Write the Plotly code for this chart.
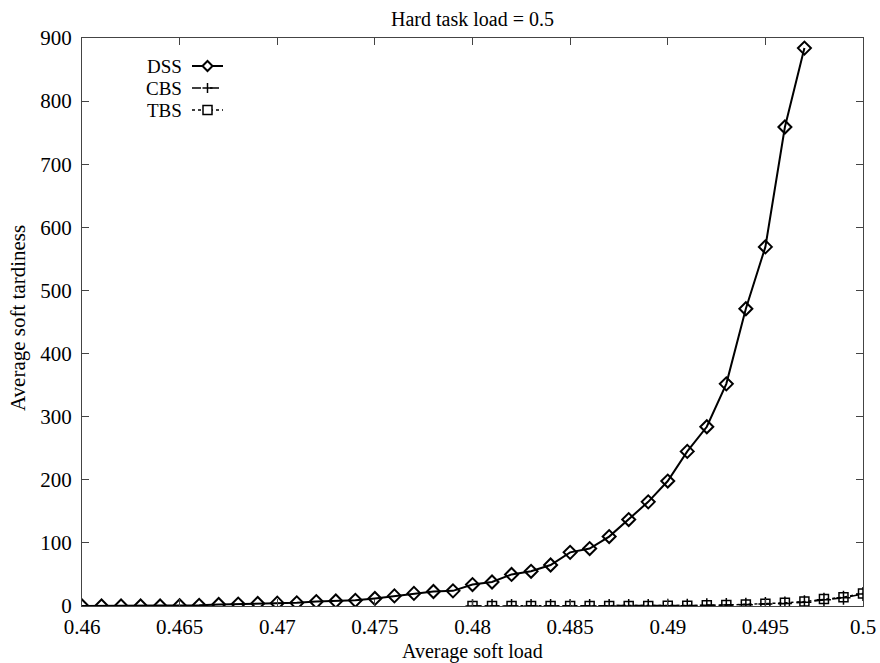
import plotly.graph_objects as go

dss_x = [0.460, 0.461, 0.462, 0.463, 0.464, 0.465, 0.466, 0.467, 0.468, 0.469,
         0.470, 0.471, 0.472, 0.473, 0.474, 0.475, 0.476, 0.477, 0.478, 0.479,
         0.480, 0.481, 0.482, 0.483, 0.484, 0.485, 0.486, 0.487, 0.488, 0.489,
         0.490, 0.491, 0.492, 0.493, 0.494, 0.495, 0.496, 0.497]
dss_y = [0, 0, 0, 0, 0, 0.5, 1, 2.5, 3, 4,
         4.5, 5, 7, 8, 9, 12, 16, 20, 23, 24,
         34, 38, 50, 55, 65, 85, 91, 110, 137, 165,
         198, 245, 284, 352, 471, 569, 759, 884]

cbs_x = [0.480, 0.481, 0.482, 0.483, 0.484, 0.485, 0.486, 0.487, 0.488, 0.489,
         0.490, 0.491, 0.492, 0.493, 0.494, 0.495, 0.496, 0.497, 0.498, 0.499, 0.500]
cbs_y = [0, 0, 0, 0, 0, 0, 0, 0, 0, 0,
         0.5, 0.5, 1, 1.5, 2, 3, 4, 6, 10, 13, 19]
tbs_x = cbs_x
tbs_y = [0, 0, 0, 0, 0, 0, 0, 0, 0, 0,
         0.5, 0.5, 1, 1.5, 2.5, 3.5, 5, 7, 11, 14, 20]

series_names = ["DSS", "CBS", "TBS"]
x_ticks = [0.46, 0.465, 0.47, 0.475, 0.48, 0.485, 0.49, 0.495, 0.5]
x_tick_labels = ["0.46", "0.465", "0.47", "0.475", "0.48", "0.485", "0.49", "0.495", "0.5"]
y_ticks = [0, 100, 200, 300, 400, 500, 600, 700, 800, 900]

font = "Liberation Serif, Times New Roman, serif"
FS = 21
W, H = 880, 663
ML, MR, MT, MB = 82, 17, 38, 57
PW, PH = W - ML - MR, H - MT - MB


def px_x(px):
    return (px - ML) / PW


def px_y(py):
    return (H - MB - py) / PH


fig = go.Figure()
fig.add_trace(go.Scatter(
    x=dss_x, y=dss_y, name=series_names[0], mode="lines+markers", showlegend=False,
    line=dict(color="black", width=2),
    marker=dict(symbol="diamond-open", size=10, color="black", line=dict(width=2)),
))
fig.add_trace(go.Scatter(
    x=cbs_x, y=cbs_y, name=series_names[1], mode="lines+markers", showlegend=False,
    line=dict(color="black", width=1.5, dash="dash"),
    marker=dict(symbol="cross-thin-open", size=10, color="black", line=dict(width=1.5, color="black")),
))
fig.add_trace(go.Scatter(
    x=tbs_x, y=tbs_y, name=series_names[2], mode="lines+markers", showlegend=False,
    line=dict(color="black", width=1.5, dash="dot"),
    marker=dict(symbol="square-open", size=9, color="black", line=dict(width=1.5)),
))

axis_common = dict(
    showgrid=False, zeroline=False, showline=True, linecolor="#444", linewidth=1.2,
    mirror="ticks", ticks="inside", ticklen=7, tickcolor="#444", automargin=False,
    tickfont=dict(family=font, size=FS, color="black"),
)
fig.update_xaxes(range=[0.46, 0.5], tickvals=x_ticks, ticktext=x_tick_labels,
                 ticklabelstandoff=2, **axis_common)
fig.update_yaxes(range=[0, 900], tickvals=y_ticks, ticklabelstandoff=5, **axis_common)

annotations = [
    dict(text="Average soft load", xref="paper", yref="paper", x=0.5, y=px_y(651),
         xanchor="center", yanchor="middle", showarrow=False, borderpad=0,
         font=dict(family=font, size=FS - 1, color="black")),
    dict(text="Average soft tardiness", xref="paper", yref="paper", x=px_x(18), y=px_y(318),
         xanchor="center", yanchor="middle", textangle=-90, showarrow=False,
         font=dict(family=font, size=FS, color="black")),
]

# manual gnuplot-style key: text on the left, sample on the right
rows_py = [66, 88, 110]
text_right = 183
s0, s1, sc = 192, 223, 207.5
dashes = ["solid", "dash", "dot"]
shapes = []
for name, py, dash in zip(series_names, rows_py, dashes):
    annotations.append(dict(text=name, xref="paper", yref="paper", x=px_x(text_right), y=px_y(py),
                            xanchor="right", yanchor="middle", showarrow=False, borderpad=0,
                            font=dict(family=font, size=FS - 2, color="black")))
    shapes.append(dict(type="line", xref="paper", yref="paper",
                       x0=px_x(s0), x1=px_x(s1), y0=px_y(py), y1=px_y(py),
                       line=dict(color="black", width=2 if dash == "solid" else 1.5, dash=dash)))
    if name == "DSS":
        r = 5
        path = "M {} {} L {} {} L {} {} L {} {} Z".format(
            px_x(sc - r), px_y(py), px_x(sc), px_y(py - r),
            px_x(sc + r), px_y(py), px_x(sc), px_y(py + r))
        shapes.append(dict(type="path", xref="paper", yref="paper", path=path,
                           fillcolor="white", line=dict(color="black", width=2)))
    elif name == "CBS":
        r = 5
        shapes.append(dict(type="line", xref="paper", yref="paper",
                           x0=px_x(sc - r), x1=px_x(sc + r), y0=px_y(py), y1=px_y(py),
                           line=dict(color="black", width=1.5)))
        shapes.append(dict(type="line", xref="paper", yref="paper",
                           x0=px_x(sc), x1=px_x(sc), y0=px_y(py - r), y1=px_y(py + r),
                           line=dict(color="black", width=1.5)))
    else:
        r = 4.5
        shapes.append(dict(type="rect", xref="paper", yref="paper",
                           x0=px_x(sc - r), x1=px_x(sc + r), y0=px_y(py + r), y1=px_y(py - r),
                           fillcolor="white", line=dict(color="black", width=1.5)))

fig.update_layout(
    width=W, height=H,
    margin=dict(l=ML, r=MR, t=MT, b=MB),
    plot_bgcolor="white", paper_bgcolor="white",
    title=dict(text="Hard task load = 0.5", xref="paper", x=0.5, xanchor="center",
               yref="container", y=1 - 19 / H, yanchor="middle",
               font=dict(family=font, size=FS - 1, color="black")),
    annotations=annotations,
    shapes=shapes,
    showlegend=False,
)
fig.write_html("out.html")
